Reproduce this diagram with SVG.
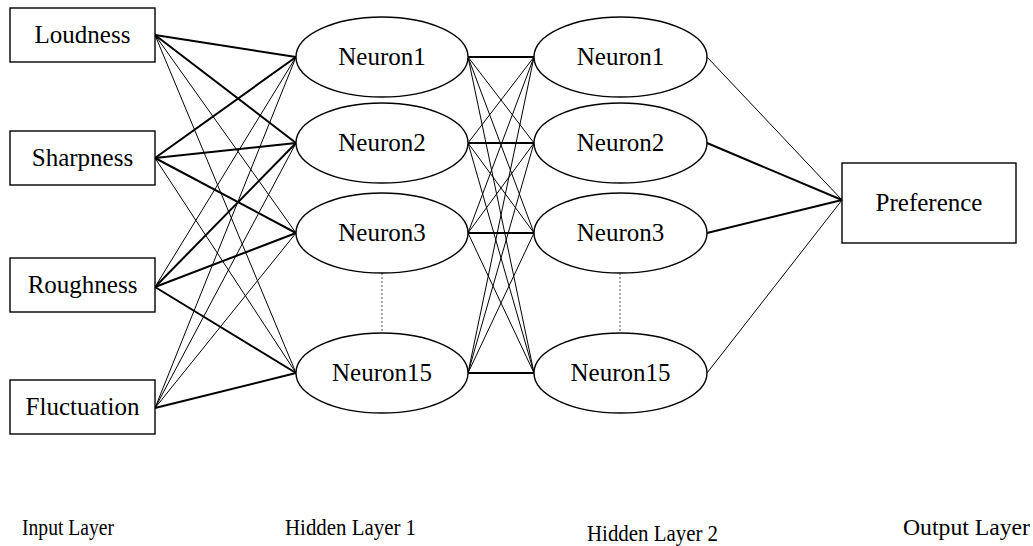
<svg xmlns="http://www.w3.org/2000/svg" width="1033" height="546" viewBox="0 0 1033 546">
<style>
.box{fill:#fff;stroke:#000;stroke-width:1.4}
.neu{fill:#fff;stroke:#000;stroke-width:1.4}
.t{font-family:"Liberation Serif","Times New Roman",serif;font-size:25px;fill:#000;text-anchor:middle}
.lab{font-family:"Liberation Serif","Times New Roman",serif;font-size:24px;fill:#000}
.thin{stroke:#000;stroke-width:1;fill:none}
.bold{stroke:#000;stroke-width:2;fill:none}
.dot{stroke:#555;stroke-width:1;stroke-dasharray:2 2;fill:none}
</style>
<g id="connectors">
<line class="bold" x1="155" y1="35" x2="296" y2="57"/>
<line class="bold" x1="155" y1="35" x2="296" y2="143"/>
<line class="thin" x1="155" y1="35" x2="296" y2="233"/>
<line class="thin" x1="155" y1="35" x2="296" y2="373"/>
<line class="bold" x1="155" y1="158" x2="296" y2="57"/>
<line class="bold" x1="155" y1="158" x2="296" y2="143"/>
<line class="bold" x1="155" y1="158" x2="296" y2="233"/>
<line class="thin" x1="155" y1="158" x2="296" y2="373"/>
<line class="thin" x1="155" y1="287" x2="296" y2="57"/>
<line class="bold" x1="155" y1="287" x2="296" y2="143"/>
<line class="bold" x1="155" y1="287" x2="296" y2="233"/>
<line class="bold" x1="155" y1="287" x2="296" y2="373"/>
<line class="thin" x1="155" y1="408" x2="296" y2="57"/>
<line class="thin" x1="155" y1="408" x2="296" y2="143"/>
<line class="thin" x1="155" y1="408" x2="296" y2="233"/>
<line class="bold" x1="155" y1="408" x2="296" y2="373"/>
<line class="bold" x1="468" y1="57" x2="534" y2="57"/>
<line class="thin" x1="468" y1="57" x2="534" y2="143"/>
<line class="thin" x1="468" y1="57" x2="534" y2="233"/>
<line class="thin" x1="468" y1="57" x2="534" y2="373"/>
<line class="thin" x1="468" y1="143" x2="534" y2="57"/>
<line class="bold" x1="468" y1="143" x2="534" y2="143"/>
<line class="thin" x1="468" y1="143" x2="534" y2="233"/>
<line class="thin" x1="468" y1="143" x2="534" y2="373"/>
<line class="thin" x1="468" y1="233" x2="534" y2="57"/>
<line class="thin" x1="468" y1="233" x2="534" y2="143"/>
<line class="bold" x1="468" y1="233" x2="534" y2="233"/>
<line class="thin" x1="468" y1="233" x2="534" y2="373"/>
<line class="thin" x1="468" y1="373" x2="534" y2="57"/>
<line class="thin" x1="468" y1="373" x2="534" y2="143"/>
<line class="thin" x1="468" y1="373" x2="534" y2="233"/>
<line class="bold" x1="468" y1="373" x2="534" y2="373"/>
<line class="thin" x1="707" y1="57" x2="842" y2="200"/>
<line class="bold" x1="707" y1="143" x2="842" y2="200"/>
<line class="bold" x1="707" y1="233" x2="842" y2="200"/>
<line class="thin" x1="707" y1="373" x2="842" y2="200"/>
<line class="dot" x1="382" y1="273" x2="382" y2="333"/>
<line class="dot" x1="620" y1="273" x2="620" y2="333"/>
</g>
<g id="in-loudness"><rect class="box" x="10" y="8" width="145" height="54"/><text class="t" x="82.5" y="43">Loudness</text></g>
<g id="in-sharpness"><rect class="box" x="10" y="131" width="145" height="54"/><text class="t" x="82.5" y="166">Sharpness</text></g>
<g id="in-roughness"><rect class="box" x="10" y="258" width="145" height="54"/><text class="t" x="82.5" y="293">Roughness</text></g>
<g id="in-fluctuation"><rect class="box" x="10" y="380" width="145" height="54"/><text class="t" x="82.5" y="415">Fluctuation</text></g>
<g id="h1-n1"><ellipse class="neu" cx="382" cy="57" rx="86" ry="40"/><text class="t" x="382" y="65">Neuron1</text></g>
<g id="h1-n2"><ellipse class="neu" cx="382" cy="143" rx="86" ry="40"/><text class="t" x="382" y="151">Neuron2</text></g>
<g id="h1-n3"><ellipse class="neu" cx="382" cy="233" rx="86" ry="40"/><text class="t" x="382" y="241">Neuron3</text></g>
<g id="h1-n15"><ellipse class="neu" cx="382" cy="373" rx="86" ry="40"/><text class="t" x="382" y="381">Neuron15</text></g>
<g id="h2-n1"><ellipse class="neu" cx="620.5" cy="57" rx="86.5" ry="40"/><text class="t" x="620.5" y="65">Neuron1</text></g>
<g id="h2-n2"><ellipse class="neu" cx="620.5" cy="143" rx="86.5" ry="40"/><text class="t" x="620.5" y="151">Neuron2</text></g>
<g id="h2-n3"><ellipse class="neu" cx="620.5" cy="233" rx="86.5" ry="40"/><text class="t" x="620.5" y="241">Neuron3</text></g>
<g id="h2-n15"><ellipse class="neu" cx="620.5" cy="373" rx="86.5" ry="40"/><text class="t" x="620.5" y="381">Neuron15</text></g>
<g id="out-preference"><rect class="box" x="842" y="163" width="174" height="80"/><text class="t" x="929" y="211">Preference</text></g>
<g id="layer-labels">
<text class="lab" x="22" y="535" textLength="92" lengthAdjust="spacingAndGlyphs">Input Layer</text>
<text class="lab" x="285" y="535" textLength="131" lengthAdjust="spacingAndGlyphs">Hidden Layer 1</text>
<text class="lab" x="587" y="541" textLength="131" lengthAdjust="spacingAndGlyphs">Hidden Layer 2</text>
<text class="lab" x="903" y="535" textLength="127" lengthAdjust="spacingAndGlyphs">Output Layer</text>
</g>
</svg>
